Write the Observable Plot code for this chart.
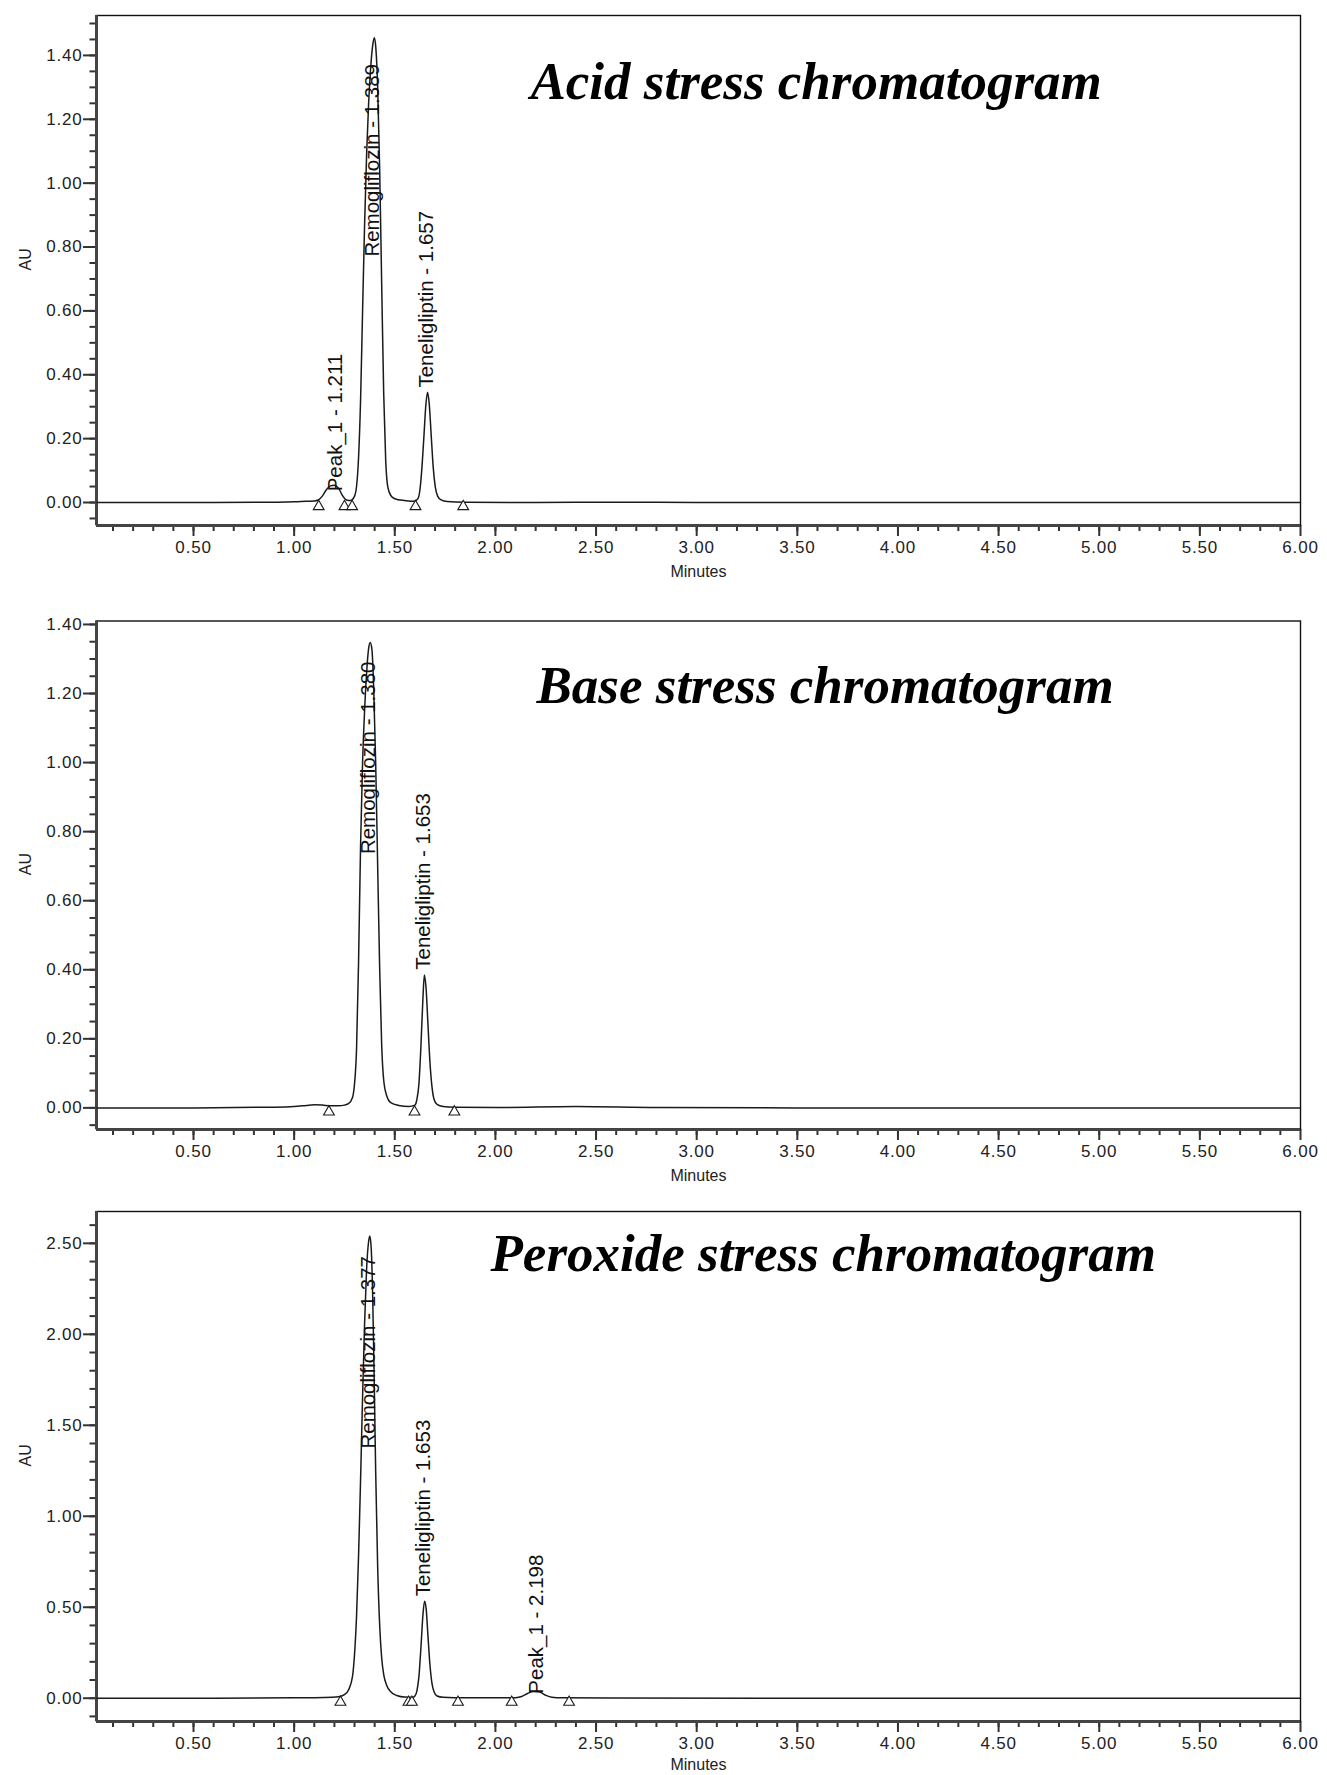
<!DOCTYPE html>
<html>
<head>
<meta charset="utf-8">
<script src="https://cdn.jsdelivr.net/npm/d3@7"></script>
<script src="https://cdn.jsdelivr.net/npm/@observablehq/plot@0.6"></script>
<style>
  body { margin: 0; background: #fff; }
  #charts svg { display: block; }
</style>
</head>
<body>
<div id="charts"></div>
<script>
// ---------- DATA ----------
const titles = ["Acid stress chromatogram", "Base stress chromatogram", "Peroxide stress chromatogram"];

const xMajor = [0.5, 1.0, 1.5, 2.0, 2.5, 3.0, 3.5, 4.0, 4.5, 5.0, 5.5, 6.0];
const xDomain = [0.018, 6.0];

// Acid stress trace
const acidTime = [0.02, 0.3, 0.6, 0.9, 1.0, 1.06, 1.10, 1.12, 1.14, 1.16, 1.18, 1.20, 1.22, 1.24, 1.26, 1.28,
  1.30, 1.31, 1.32, 1.33, 1.34, 1.35, 1.36, 1.37, 1.38, 1.39, 1.398, 1.405, 1.415, 1.425, 1.435, 1.445, 1.455, 1.465, 1.48, 1.50, 1.55,
  1.58, 1.60, 1.615, 1.625, 1.635, 1.645, 1.655, 1.663, 1.671, 1.681, 1.691, 1.701, 1.713, 1.73, 1.76, 1.85,
  2.2, 2.6, 3.0, 3.5, 4.0, 4.5, 5.0, 5.5, 6.0];
const acidAU = [0.000, 0.000, 0.000, 0.001, 0.002, 0.004, 0.005, 0.008, 0.020, 0.040, 0.052, 0.054, 0.045, 0.022, 0.008, 0.006,
  0.020, 0.050, 0.140, 0.320, 0.600, 0.870, 1.090, 1.250, 1.360, 1.430, 1.455, 1.430, 1.300, 1.040, 0.680, 0.340, 0.130, 0.050, 0.022, 0.012, 0.006,
  0.004, 0.005, 0.012, 0.040, 0.110, 0.210, 0.310, 0.345, 0.310, 0.210, 0.110, 0.050, 0.020, 0.008, 0.003, 0.001,
  0.000, 0.001, 0.000, 0.000, 0.000, 0.000, 0.000, 0.000, 0.000];
const acidMarkers = [1.122, 1.250, 1.288, 1.603, 1.840];
const acidLabelText = ["Peak_1 - 1.211", "Remogliflozin - 1.389", "Teneligliptin - 1.657"];
const acidLabelTime = [1.205, 1.389, 1.658];
const acidLabelAU = [0.035, 0.77, 0.36];
const acidYMajor = [0.0, 0.2, 0.4, 0.6, 0.8, 1.0, 1.2, 1.4];
const acidYDomain = [-0.072, 1.525];

// Base stress trace
const baseTime = [0.02, 0.5, 0.9, 1.00, 1.06, 1.10, 1.14, 1.18, 1.22, 1.25, 1.27, 1.29, 1.30, 1.31, 1.32, 1.33, 1.34, 1.35, 1.36, 1.37,
  1.378, 1.386, 1.395, 1.405, 1.415, 1.425, 1.435, 1.445, 1.46, 1.48, 1.52, 1.57,
  1.60, 1.61, 1.62, 1.63, 1.64, 1.647, 1.655, 1.665, 1.675, 1.685, 1.695, 1.71, 1.74, 1.80,
  2.0, 2.4, 2.8, 3.5, 4.5, 6.0];
const baseAU = [0.000, 0.000, 0.002, 0.004, 0.007, 0.009, 0.008, 0.006, 0.006, 0.008, 0.012, 0.030, 0.070, 0.170, 0.420, 0.760, 1.000, 1.150, 1.260, 1.330,
  1.348, 1.330, 1.220, 1.000, 0.700, 0.400, 0.180, 0.080, 0.035, 0.015, 0.007, 0.004,
  0.008, 0.025, 0.070, 0.180, 0.320, 0.385, 0.350, 0.240, 0.130, 0.060, 0.025, 0.010, 0.004, 0.002,
  0.001, 0.004, 0.001, 0.000, 0.000, 0.000];
const baseMarkers = [1.173, 1.598, 1.796];
const baseLabelText = ["Remogliflozin - 1.380", "Teneligliptin - 1.653"];
const baseLabelTime = [1.371, 1.644];
const baseLabelAU = [0.735, 0.40];
const baseYMajor = [0.0, 0.2, 0.4, 0.6, 0.8, 1.0, 1.2, 1.4];
const baseYDomain = [-0.0626, 1.41];

// Peroxide stress trace
const peroxTime = [0.02, 0.6, 1.0, 1.15, 1.22, 1.25, 1.27, 1.29, 1.30, 1.31, 1.32, 1.33, 1.34, 1.35, 1.36, 1.37,
  1.376, 1.383, 1.39, 1.397, 1.405, 1.415, 1.425, 1.435, 1.445, 1.46, 1.48, 1.51, 1.55,
  1.59, 1.60, 1.61, 1.62, 1.63, 1.64, 1.648, 1.656, 1.665, 1.675, 1.685, 1.695, 1.71, 1.74, 1.85,
  2.05, 2.10, 2.13, 2.16, 2.19, 2.22, 2.25, 2.28, 2.33, 2.6, 3.5, 6.0];
const peroxAU = [0.000, 0.000, 0.002, 0.004, 0.008, 0.020, 0.045, 0.120, 0.240, 0.450, 0.780, 1.200, 1.660, 2.060, 2.360, 2.510,
  2.540, 2.470, 2.220, 1.800, 1.250, 0.720, 0.400, 0.220, 0.130, 0.070, 0.035, 0.015, 0.006,
  0.005, 0.012, 0.040, 0.120, 0.280, 0.460, 0.533, 0.490, 0.340, 0.180, 0.080, 0.035, 0.012, 0.005, 0.002,
  0.002, 0.003, 0.009, 0.026, 0.037, 0.034, 0.016, 0.005, 0.002, 0.001, 0.000, 0.000];
const peroxMarkers = [1.230, 1.568, 1.585, 1.814, 2.081, 2.366];
const peroxLabelText = ["Remogliflozin - 1.377", "Teneligliptin - 1.653", "Peak_1 - 2.198"];
const peroxLabelTime = [1.370, 1.644, 2.203];
const peroxLabelAU = [1.372, 0.56, 0.025];
const peroxYMajor = [0.0, 0.5, 1.0, 1.5, 2.0, 2.5];
const peroxYDomain = [-0.128, 2.675];

// ---------- DRAWING ----------
const xMinor = d3.range(1, 60).map(i => i / 10);
const minorY = (lo, hi, step) => d3.range(Math.round(lo / step), Math.round(hi / step) + 1).map(i => +(i * step).toFixed(3));

const panels = [
  {title: titles[0], time: acidTime, au: acidAU, markers: acidMarkers, labelText: acidLabelText, labelTime: acidLabelTime, labelAU: acidLabelAU,
   yMajor: acidYMajor, yMinor: minorY(-0.05, 1.50, 0.05), yDomain: acidYDomain, height: 592, mt: 15, mb: 67, titleDx: 434, titleDy: 83.5, minDy: 46},
  {title: titles[1], time: baseTime, au: baseAU, markers: baseMarkers, labelText: baseLabelText, labelTime: baseLabelTime, labelAU: baseLabelAU,
   yMajor: baseYMajor, yMinor: minorY(-0.05, 1.40, 0.05), yDomain: baseYDomain, height: 592, mt: 28.5, mb: 55, titleDx: 440, titleDy: 81.5, minDy: 46},
  {title: titles[2], time: peroxTime, au: peroxAU, markers: peroxMarkers, labelText: peroxLabelText, labelTime: peroxLabelTime, labelAU: peroxLabelAU,
   yMajor: peroxYMajor, yMinor: minorY(-0.1, 2.6, 0.1), yDomain: peroxYDomain, height: 591, mt: 27, mb: 54, titleDx: 394, titleDy: 59, minDy: 43}
];

function panel(cfg) {
  const data = cfg.time.map((t, i) => ({t, v: cfg.au[i]}));
  const markers = cfg.markers.map(t => ({t, v: 0}));
  const labels = cfg.labelText.map((s, i) => ({s, t: cfg.labelTime[i], v: cfg.labelAU[i]}));
  const x0 = xDomain[0], y0 = cfg.yDomain[0];
  const svg = Plot.plot({
    width: 1327,
    height: cfg.height,
    marginLeft: 96,
    marginRight: 27,
    marginTop: cfg.mt,
    marginBottom: cfg.mb,
    style: {fontFamily: "'Liberation Sans', Arial, sans-serif", color: "#222", background: "#fff", overflow: "visible"},
    x: {domain: xDomain},
    y: {domain: cfg.yDomain},
    marks: [
      Plot.axisX(xMinor, {tickSize: 6, tickFormat: () => "", strokeWidth: 2, stroke: "#333", label: null}),
      Plot.axisX(xMajor, {tickSize: 11, tickPadding: 4, tickFormat: d => d.toFixed(2), fontSize: 17, strokeWidth: 2, stroke: "#333", label: null}),
      Plot.axisY(cfg.yMinor, {tickSize: 6.5, tickFormat: () => "", strokeWidth: 2, stroke: "#333", label: null}),
      Plot.axisY(cfg.yMajor, {tickSize: 13, tickPadding: 1, tickFormat: d => d.toFixed(2), fontSize: 17, strokeWidth: 2, stroke: "#333", label: null}),
      Plot.frame({stroke: "#111", strokeWidth: 1.4}),
      Plot.ruleX([x0], {stroke: "#444", strokeWidth: 3}),
      Plot.ruleY([y0], {stroke: "#444", strokeWidth: 3}),
      Plot.line(data, {x: "t", y: "v", curve: "monotone-x", stroke: "#1a1a1a", strokeWidth: 1.5}),
      Plot.dot(markers, {x: "t", y: "v", symbol: "triangle", r: 4, dy: 4, fill: "white", stroke: "#1a1a1a", strokeWidth: 1.1}),
      Plot.text(labels, {x: "t", y: "v", text: "s", rotate: -90, textAnchor: "start", lineAnchor: "middle", fontSize: 20.5, fill: "#111"}),
      Plot.text([cfg.title], {frameAnchor: "top-left", dx: cfg.titleDx, dy: cfg.titleDy, textAnchor: "start", lineAnchor: "bottom",
        fontFamily: "'Liberation Serif', 'Times New Roman', serif", fontWeight: "bold", fontStyle: "italic", fontSize: 53, fill: "#000"}),
      Plot.text(["AU"], {frameAnchor: "left", dx: -71, rotate: -90, fontSize: 16, fill: "#222"}),
      Plot.text(["Minutes"], {frameAnchor: "bottom", dy: cfg.minDy, lineAnchor: "middle", fontSize: 16, fill: "#222"})
    ]
  });
  d3.select(svg).selectAll('g[aria-label="x-axis tick label"] text, g[aria-label="y-axis tick label"] text')
    .style("letter-spacing", "0.8px");
  return svg;
}

const root = document.getElementById("charts");
for (const p of panels) root.appendChild(panel(p));
</script>
</body>
</html>
